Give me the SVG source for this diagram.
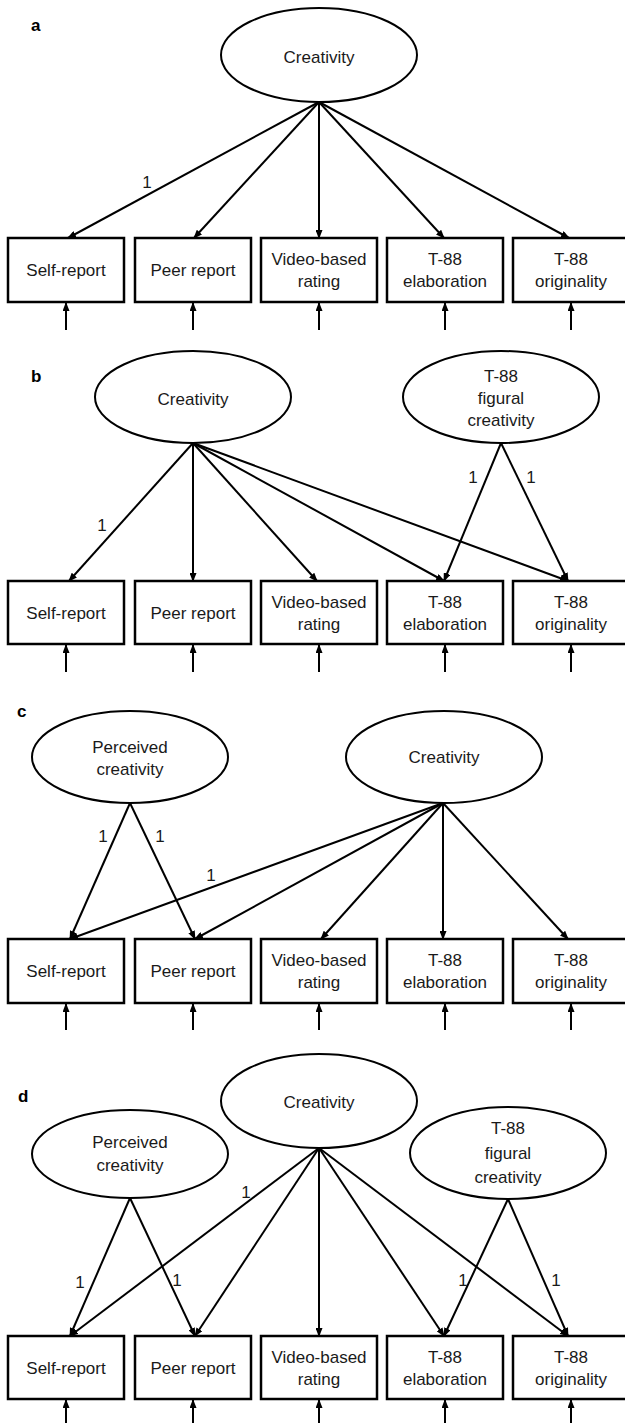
<svg xmlns="http://www.w3.org/2000/svg" width="625" height="1423" viewBox="0 0 625 1423">
<defs>
<marker id="ah" markerUnits="userSpaceOnUse" markerWidth="9" markerHeight="7" refX="8" refY="3.5" orient="auto">
<path d="M0,0 L9,3.5 L0,7 z" fill="#000"/>
</marker>
<style>
.box{fill:#fff;stroke:#000;stroke-width:2.5}
.ell{fill:#fff;stroke:#000;stroke-width:2}
.t{font-family:"Liberation Sans",Arial,sans-serif;font-size:17px;text-anchor:middle;fill:#1a1a1a}
.p{font-family:"Liberation Sans",Arial,sans-serif;font-size:17px;font-weight:bold;fill:#000}
.c line{stroke:#000;stroke-width:2;marker-end:url(#ah)}
</style>
</defs>
<rect width="625" height="1423" fill="#fff"/>

<!-- Panel labels -->
<text class="p" x="31" y="31">a</text>
<text class="p" x="31" y="382">b</text>
<text class="p" x="17" y="717">c</text>
<text class="p" x="18" y="1102">d</text>

<!-- Connectors -->
<g id="connectors" class="c">
<!-- panel a -->
<line x1="319" y1="102" x2="68" y2="238"/>
<line x1="319" y1="102" x2="194" y2="238"/>
<line x1="319" y1="102" x2="319" y2="238"/>
<line x1="319" y1="102" x2="444" y2="238"/>
<line x1="319" y1="102" x2="569" y2="238"/>
<line x1="66" y1="330" x2="66" y2="303"/>
<line x1="193" y1="330" x2="193" y2="303"/>
<line x1="319" y1="330" x2="319" y2="303"/>
<line x1="445" y1="330" x2="445" y2="303"/>
<line x1="571" y1="330" x2="571" y2="303"/>
<!-- panel b -->
<line x1="193" y1="443" x2="69" y2="581"/>
<line x1="193" y1="443" x2="193" y2="581"/>
<line x1="193" y1="443" x2="317" y2="581"/>
<line x1="193" y1="443" x2="444" y2="581"/>
<line x1="193" y1="443" x2="568" y2="581"/>
<line x1="501" y1="443" x2="444" y2="581"/>
<line x1="501" y1="443" x2="568" y2="581"/>
<line x1="66" y1="672" x2="66" y2="645"/>
<line x1="193" y1="672" x2="193" y2="645"/>
<line x1="319" y1="672" x2="319" y2="645"/>
<line x1="445" y1="672" x2="445" y2="645"/>
<line x1="571" y1="672" x2="571" y2="645"/>
<!-- panel c -->
<line x1="130" y1="803" x2="70" y2="939"/>
<line x1="130" y1="803" x2="195" y2="939"/>
<line x1="443" y1="803" x2="70" y2="939"/>
<line x1="443" y1="803" x2="195" y2="939"/>
<line x1="443" y1="803" x2="321" y2="939"/>
<line x1="443" y1="803" x2="443" y2="939"/>
<line x1="443" y1="803" x2="568" y2="939"/>
<line x1="66" y1="1030" x2="66" y2="1004"/>
<line x1="193" y1="1030" x2="193" y2="1004"/>
<line x1="319" y1="1030" x2="319" y2="1004"/>
<line x1="445" y1="1030" x2="445" y2="1004"/>
<line x1="571" y1="1030" x2="571" y2="1004"/>
<!-- panel d -->
<line x1="130" y1="1198" x2="70" y2="1336"/>
<line x1="130" y1="1198" x2="195" y2="1336"/>
<line x1="319" y1="1148" x2="70" y2="1336"/>
<line x1="319" y1="1148" x2="195" y2="1336"/>
<line x1="319" y1="1148" x2="319" y2="1336"/>
<line x1="319" y1="1148" x2="444" y2="1336"/>
<line x1="319" y1="1148" x2="568" y2="1336"/>
<line x1="508" y1="1199" x2="444" y2="1336"/>
<line x1="508" y1="1199" x2="568" y2="1336"/>
<line x1="66" y1="1426" x2="66" y2="1400"/>
<line x1="193" y1="1426" x2="193" y2="1400"/>
<line x1="319" y1="1426" x2="319" y2="1400"/>
<line x1="445" y1="1426" x2="445" y2="1400"/>
<line x1="571" y1="1426" x2="571" y2="1400"/>
</g>

<!-- Loading labels -->
<g id="loadings">
<text class="t" x="147" y="188">1</text>
<text class="t" x="102" y="531">1</text>
<text class="t" x="473" y="483">1</text>
<text class="t" x="531" y="483">1</text>
<text class="t" x="103" y="842">1</text>
<text class="t" x="160" y="842">1</text>
<text class="t" x="211" y="881">1</text>
<text class="t" x="80" y="1288">1</text>
<text class="t" x="177" y="1286">1</text>
<text class="t" x="246" y="1198">1</text>
<text class="t" x="463" y="1286">1</text>
<text class="t" x="556" y="1286">1</text>
</g>

<!-- Panel a -->
<g id="a-creativity"><ellipse class="ell" cx="319" cy="55" rx="98" ry="47"/><text class="t" x="319" y="63">Creativity</text></g>
<g id="a-self"><rect class="box" x="8" y="238" width="116" height="64"/><text class="t" x="66" y="276">Self-report</text></g>
<g id="a-peer"><rect class="box" x="135" y="238" width="116" height="64"/><text class="t" x="193" y="276">Peer report</text></g>
<g id="a-video"><rect class="box" x="261" y="238" width="116" height="64"/><text class="t" x="319" y="265">Video-based</text><text class="t" x="319" y="287">rating</text></g>
<g id="a-elab"><rect class="box" x="387" y="238" width="116" height="64"/><text class="t" x="445" y="265">T-88</text><text class="t" x="445" y="287">elaboration</text></g>
<g id="a-orig"><rect class="box" x="513" y="238" width="116" height="64"/><text class="t" x="571" y="265">T-88</text><text class="t" x="571" y="287">originality</text></g>

<!-- Panel b -->
<g id="b-creativity"><ellipse class="ell" cx="193" cy="397" rx="98" ry="46"/><text class="t" x="193" y="405">Creativity</text></g>
<g id="b-figural"><ellipse class="ell" cx="501" cy="397" rx="98" ry="46"/><text class="t" x="501" y="382">T-88</text><text class="t" x="501" y="404">figural</text><text class="t" x="501" y="426">creativity</text></g>
<g id="b-self"><rect class="box" x="8" y="581" width="116" height="63"/><text class="t" x="66" y="619">Self-report</text></g>
<g id="b-peer"><rect class="box" x="135" y="581" width="116" height="63"/><text class="t" x="193" y="619">Peer report</text></g>
<g id="b-video"><rect class="box" x="261" y="581" width="116" height="63"/><text class="t" x="319" y="608">Video-based</text><text class="t" x="319" y="630">rating</text></g>
<g id="b-elab"><rect class="box" x="387" y="581" width="116" height="63"/><text class="t" x="445" y="608">T-88</text><text class="t" x="445" y="630">elaboration</text></g>
<g id="b-orig"><rect class="box" x="513" y="581" width="116" height="63"/><text class="t" x="571" y="608">T-88</text><text class="t" x="571" y="630">originality</text></g>

<!-- Panel c -->
<g id="c-perceived"><ellipse class="ell" cx="130" cy="757" rx="98" ry="46"/><text class="t" x="130" y="753">Perceived</text><text class="t" x="130" y="775">creativity</text></g>
<g id="c-creativity"><ellipse class="ell" cx="444" cy="757" rx="98" ry="46"/><text class="t" x="444" y="763">Creativity</text></g>
<g id="c-self"><rect class="box" x="8" y="939" width="116" height="64"/><text class="t" x="66" y="977">Self-report</text></g>
<g id="c-peer"><rect class="box" x="135" y="939" width="116" height="64"/><text class="t" x="193" y="977">Peer report</text></g>
<g id="c-video"><rect class="box" x="261" y="939" width="116" height="64"/><text class="t" x="319" y="966">Video-based</text><text class="t" x="319" y="988">rating</text></g>
<g id="c-elab"><rect class="box" x="387" y="939" width="116" height="64"/><text class="t" x="445" y="966">T-88</text><text class="t" x="445" y="988">elaboration</text></g>
<g id="c-orig"><rect class="box" x="513" y="939" width="116" height="64"/><text class="t" x="571" y="966">T-88</text><text class="t" x="571" y="988">originality</text></g>

<!-- Panel d -->
<g id="d-creativity"><ellipse class="ell" cx="319" cy="1101" rx="98" ry="47"/><text class="t" x="319" y="1108">Creativity</text></g>
<g id="d-perceived"><ellipse class="ell" cx="130" cy="1154" rx="98" ry="44"/><text class="t" x="130" y="1148">Perceived</text><text class="t" x="130" y="1171">creativity</text></g>
<g id="d-figural"><ellipse class="ell" cx="508" cy="1153" rx="98" ry="46"/><text class="t" x="508" y="1134">T-88</text><text class="t" x="508" y="1159">figural</text><text class="t" x="508" y="1183">creativity</text></g>
<g id="d-self"><rect class="box" x="8" y="1336" width="116" height="63"/><text class="t" x="66" y="1374">Self-report</text></g>
<g id="d-peer"><rect class="box" x="135" y="1336" width="116" height="63"/><text class="t" x="193" y="1374">Peer report</text></g>
<g id="d-video"><rect class="box" x="261" y="1336" width="116" height="63"/><text class="t" x="319" y="1363">Video-based</text><text class="t" x="319" y="1385">rating</text></g>
<g id="d-elab"><rect class="box" x="387" y="1336" width="116" height="63"/><text class="t" x="445" y="1363">T-88</text><text class="t" x="445" y="1385">elaboration</text></g>
<g id="d-orig"><rect class="box" x="513" y="1336" width="116" height="63"/><text class="t" x="571" y="1363">T-88</text><text class="t" x="571" y="1385">originality</text></g>
</svg>
